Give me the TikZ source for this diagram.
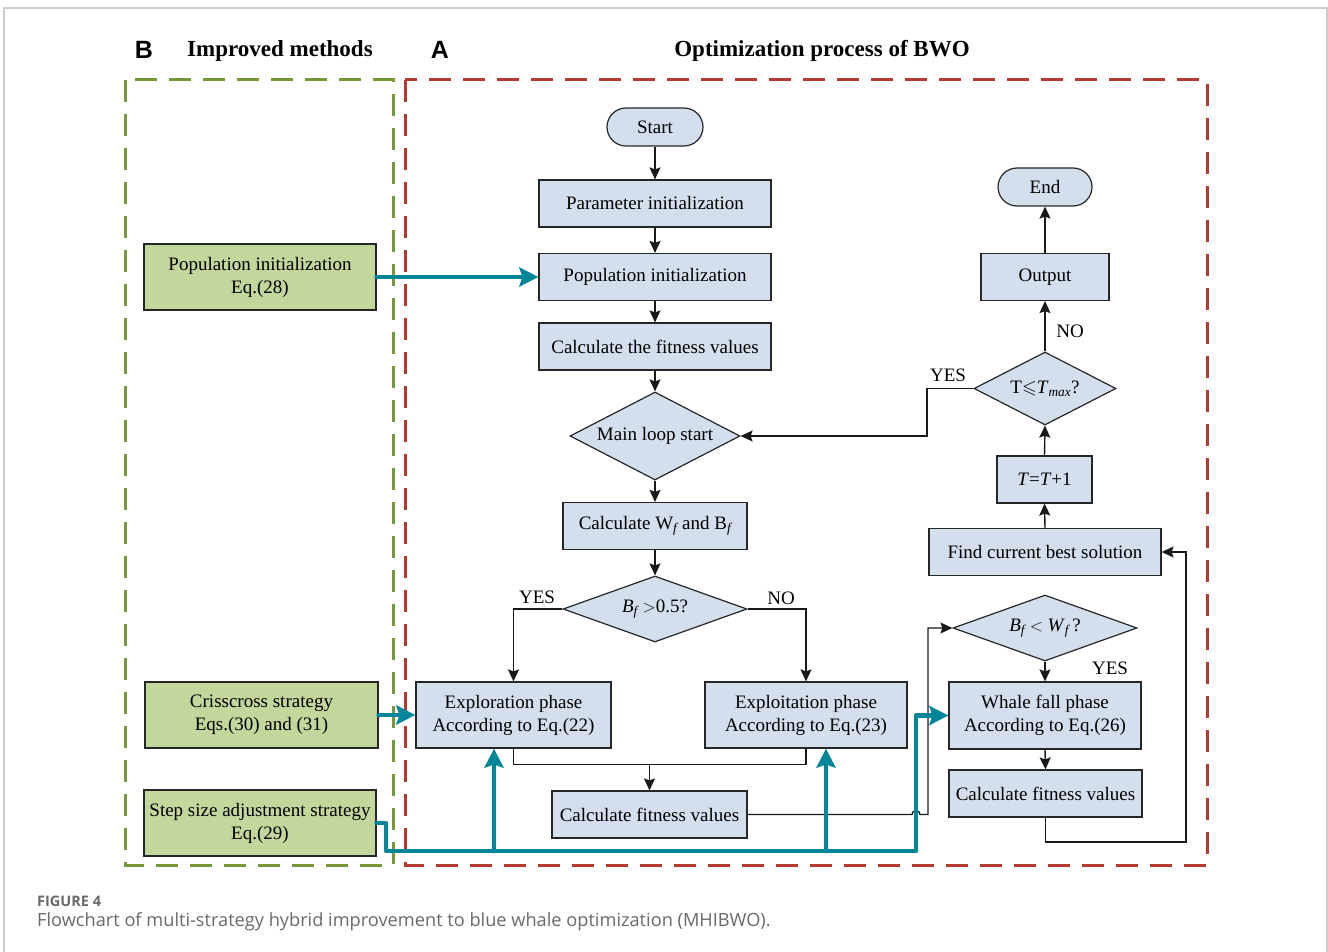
\documentclass[tikz,border=0pt]{standalone}
\usepackage{amsmath}
\usepackage{amssymb}
\usepackage{fontspec}
\setmainfont{Liberation Serif}
\newfontfamily\capfont{Open Sans}
\newfontfamily\hfont{Liberation Sans}
\usetikzlibrary{arrows.meta,shapes.geometric}
\definecolor{boxblue}{RGB}{211,223,237}
\definecolor{boxgreen}{RGB}{195,214,155}
\definecolor{dgreen}{RGB}{118,150,58}
\definecolor{dred}{RGB}{180,58,52}
\definecolor{tealc}{RGB}{0,134,152}
\definecolor{capgray}{RGB}{105,105,105}
\definecolor{framegray}{RGB}{205,205,205}
\begin{document}
\begin{tikzpicture}[x=1pt,y=-1pt,
  every node/.style={font=\fontsize{19}{23}\selectfont},
  pbox/.style={draw=black!85,line width=1.2pt,fill=boxblue,minimum height=47pt,inner sep=0pt,align=center},
  gbox/.style={draw=black!85,line width=1.2pt,fill=boxgreen,minimum height=66pt,inner sep=0pt,align=center},
  term/.style={draw=black!85,line width=1.2pt,fill=boxblue,minimum height=38pt,rounded corners=19pt,inner sep=0pt},
  dia/.style={draw=black!85,line width=1.2pt,fill=boxblue,diamond,aspect=2.2,inner sep=0pt},
  ln/.style={draw=black!90,line width=1.4pt},
  arr/.style={ln,-{Stealth[length=12pt,width=11pt,inset=2pt]}},
  tln/.style={draw=tealc,line width=4.5pt,line cap=round,line join=round},
  tarr/.style={tln,-{Stealth[length=19pt,width=19pt,inset=3pt]}},
  dashbox/.style={line width=3pt,dash pattern=on 22pt off 12pt},
  lbl/.style={inner sep=0pt}
]
\useasboundingbox (0,0) rectangle (1328,952);
% outer frame
\draw[framegray,line width=1.5pt] (4,952) -- (4,8) -- (1327,8) -- (1327,952);

% headers
\node[lbl,font=\hfont\bfseries\fontsize{25}{28}\selectfont] (hB) at (144,50) {B};
\node[lbl,font=\bfseries\fontsize{23}{26}\selectfont] (hBt) at (280,51) {Improved methods};
\node[lbl,font=\hfont\bfseries\fontsize{25}{28}\selectfont] (hA) at (440,50) {A};
\node[lbl,font=\bfseries\fontsize{23}{26}\selectfont] (hAt) at (822,51) {Optimization process of BWO};

% dashed regions
\draw[dgreen,dashbox] (125,80) rectangle (393,865);
\draw[dred,dashbox] (405,80) rectangle (1207,865);

% main column
\node[term,minimum width=96pt] (start) at (655,127) {Start};
\node[pbox,minimum width=232pt] (param) at (655,203.5) {Parameter initialization};
\node[pbox,minimum width=232pt] (pop) at (655,277) {Population initialization};
\node[pbox,minimum width=232pt] (calc) at (655,346.5) {Calculate the fitness values};
\node[dia,minimum width=170pt,minimum height=88pt] (loop) at (655,436) {Main loop start};
\node[pbox,minimum width=184pt] (wb) at (655,526) {Calculate W$_{\textit{f}}$ and B$_{\textit{f}}$};
\node[dia,aspect=2.8,minimum width=184pt,minimum height=66pt] (bf) at (655,609) {\textit{B}$_{\textit{f}}$ $>$0.5?};
\node[pbox,minimum width=195pt,minimum height=66pt] (expl) at (513.5,715) {Exploration phase\\According to Eq.(22)};
\node[pbox,minimum width=202pt,minimum height=66pt] (expt) at (806,715) {Exploitation phase\\According to Eq.(23)};
\node[pbox,minimum width=195pt] (cfm) at (649.5,814.5) {Calculate fitness values};

% right column
\node[dia,aspect=2.8,minimum width=184pt,minimum height=66pt] (bw) at (1045,628) {\textit{B}$_{\textit{f}}$ $<$ \textit{W}$_{\textit{f}}$\,?};
\node[pbox,minimum width=192pt,minimum height=67pt] (wf) at (1045,715.5) {Whale fall phase\\According to Eq.(26)};
\node[pbox,minimum width=193pt] (cfr) at (1045.5,793.5) {Calculate fitness values};
\node[pbox,minimum width=232pt] (best) at (1045,552) {Find current best solution};
\node[pbox,minimum width=95pt] (tt) at (1044.5,479.5) {\textit{T}=\textit{T}+1};
\node[dia,aspect=1.95,minimum width=142pt,minimum height=73pt] (tmax) at (1045,388.5) {T$\leqslant$\textit{T}$_{\textit{max}}$?};
\node[pbox,minimum width=128pt] (out) at (1045,277) {Output};
\node[term,minimum width=94pt] (end) at (1045,187) {End};

% green boxes
\node[gbox,minimum width=232pt] (gpop) at (260,277) {Population initialization\\Eq.(28)};
\node[gbox,minimum width=233pt] (gcc) at (261.5,715) {Crisscross strategy\\Eqs.(30) and (31)};
\node[gbox,minimum width=232pt] (gss) at (260,823) {Step size adjustment strategy\\Eq.(29)};

% black connectors
\draw[arr] (start.south) -- (param.north);
\draw[arr] (param.south) -- (pop.north);
\draw[arr] (pop.south) -- (calc.north);
\draw[arr] (calc.south) -- (loop.north);
\draw[arr] (loop.south) -- (wb.north);
\draw[arr] (wb.south) -- (bf.north);
\draw[arr] (bf.west) -| (expl.north);
\draw[arr] (bf.east) -| (expt.north);
\node[lbl] (yes1) at (537,597) {YES};
\node[lbl] (no1) at (781,598) {NO};
\draw[ln] (expl.south) -- ++(0,16) -| (expt.south);
\coordinate (mj) at (649.5,764);
\draw[arr] (mj) -- (cfm.north);
\draw[arr] (cfm.east) -- (912,814.5) arc[start angle=180,end angle=360,radius=4] -- (928,814.5) |- (bw.west);
\draw[arr] (bw.south) -- (wf.north);
\node[lbl] (yes2) at (1110,668) {YES};
\draw[arr] (wf.south) -- (cfr.north);
\draw[arr] (cfr.south) |- (1186,842) |- (best.east);
\draw[arr] (best.north) -- (tt.south);
\draw[arr] (tt.north) -- (tmax.south);
\draw[arr] (tmax.north) -- (out.south);
\node[lbl] (no2) at (1070,331) {NO};
\draw[arr] (out.north) -- (end.south);
\draw[arr] (tmax.west) -| (927,436) -- (loop.east);
\node[lbl] (yes3) at (948,375) {YES};

% teal connectors
\draw[tarr] (gpop.east) -- (pop.west);
\draw[tarr] (gcc.east) -- (expl.west);
\draw[tarr] (gss.east) -| (386,851) -| (916,715.5) -- (wf.west);
\coordinate (b1) at (494,851);
\coordinate (b2) at (826,851);
\draw[tarr] (b1) -- (b1 |- expl.south);
\draw[tarr] (b2) -- (b2 |- expt.south);

% caption
\node[anchor=base west,inner sep=0pt,font=\capfont\bfseries\fontsize{14.5}{17}\selectfont,text=capgray] (figno) at (37,906) {FIGURE 4};
\node[anchor=base west,inner sep=0pt,font=\capfont\fontsize{18.2}{21}\selectfont,text=capgray] (cap) at (37,926) {Flowchart of multi-strategy hybrid improvement to blue whale optimization (MHIBWO).};
\end{tikzpicture}
\end{document}
